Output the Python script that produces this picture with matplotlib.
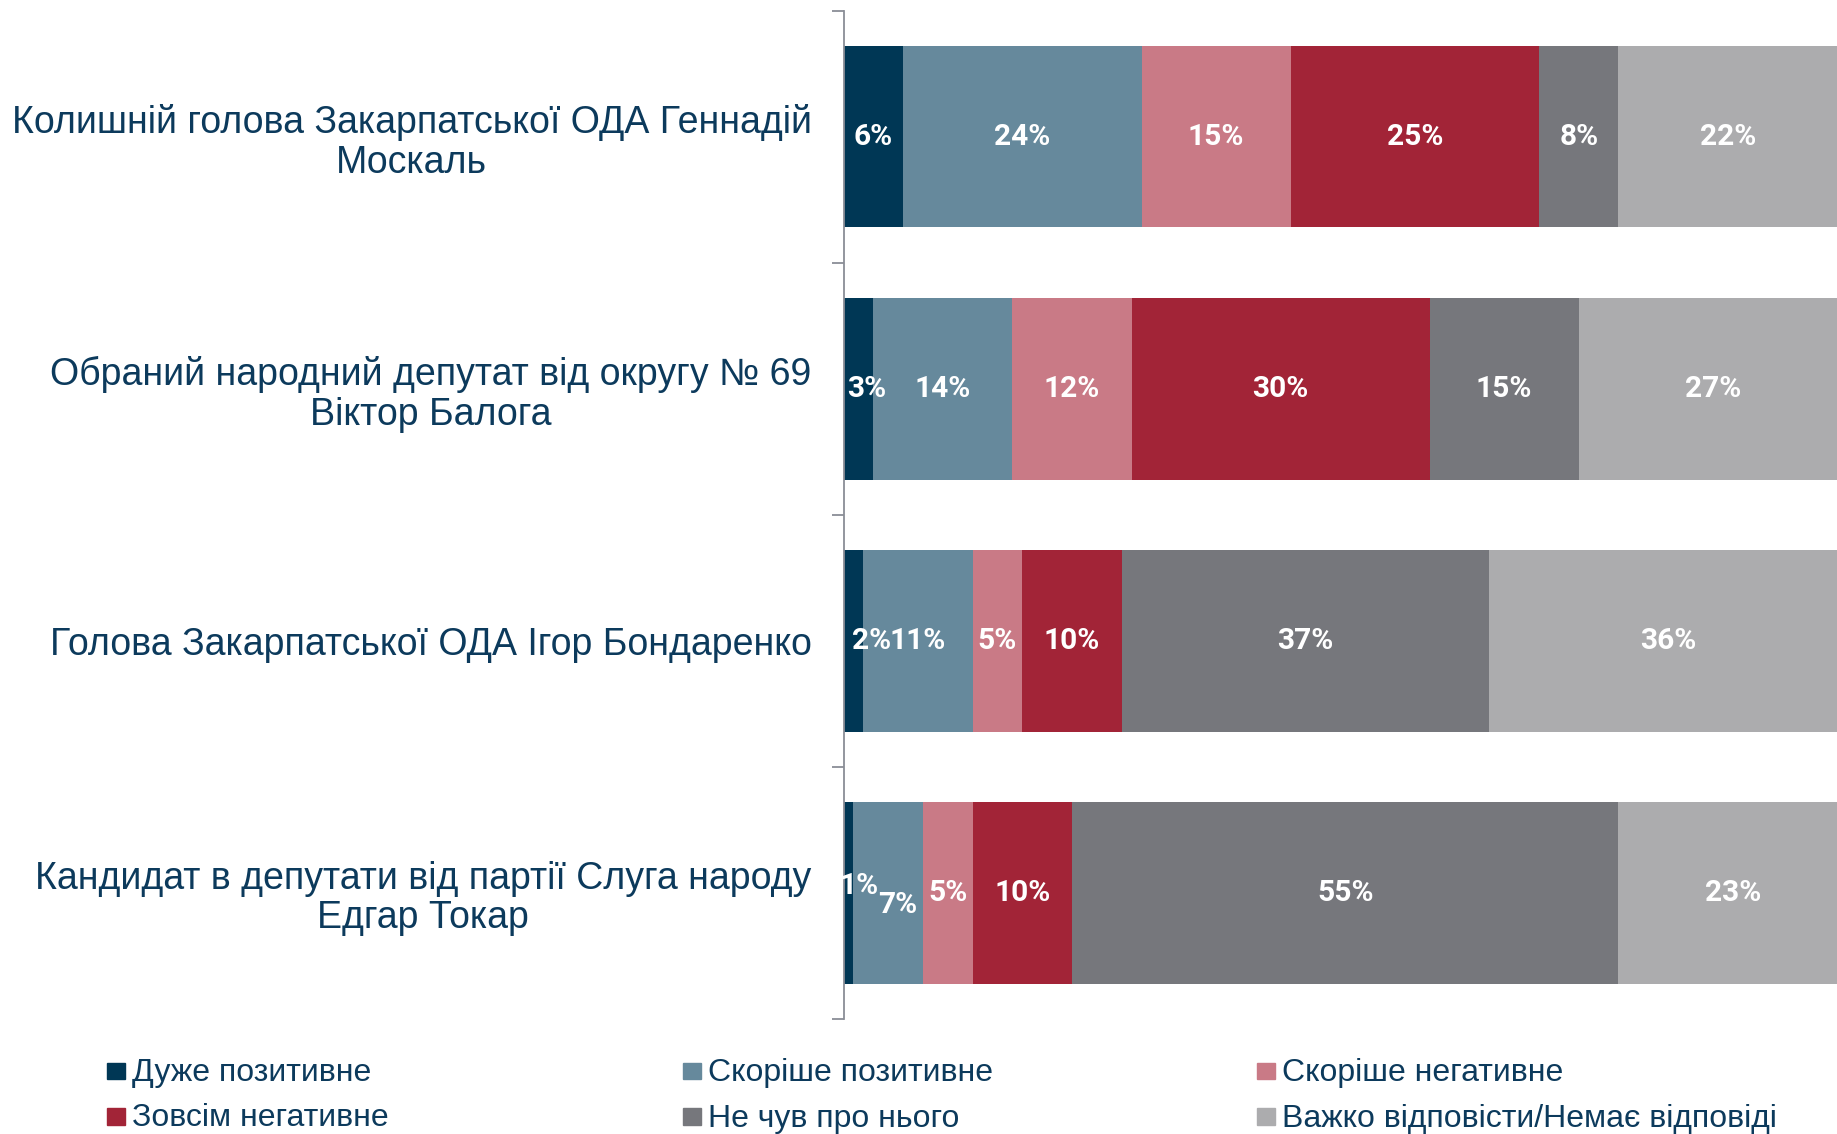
import matplotlib
matplotlib.use("Agg")
import matplotlib.pyplot as plt
from matplotlib.patches import Rectangle
import numpy as np

categories = [
    "Колишній голова Закарпатської ОДА Геннадій\nМоскаль",
    "Обраний народний депутат від округу № 69\nВіктор Балога",
    "Голова Закарпатської ОДА Ігор Бондаренко",
    "Кандидат в депутати від партії Слуга народу\nЕдгар Токар",
]
series = [
    "Дуже позитивне",
    "Скоріше позитивне",
    "Скоріше негативне",
    "Зовсім негативне",
    "Не чув про нього",
    "Важко відповісти/Немає відповіді",
]
very_positive = [6, 3, 2, 1]
rather_positive = [24, 14, 11, 7]
rather_negative = [15, 12, 5, 5]
very_negative = [25, 30, 10, 10]
never_heard = [8, 15, 37, 55]
hard_to_say = [22, 27, 36, 23]

values = [very_positive, rather_positive, rather_negative,
          very_negative, never_heard, hard_to_say]
colors = ["#003755", "#66899c", "#c97a86", "#a22437", "#76777c", "#acacae"]
text_color = "#0c3a5c"

# hand nudges (pixels) for labels on the narrow segments
nudges = {(1, 0): (8, 0), (2, 0): (18, 0), (3, 0): (11, 7), (3, 1): (9, -12)}

W, H = 1837, 1134
fig = plt.figure(figsize=(W / 100, H / 100), dpi=100)
ax = fig.add_axes([843.5 / W, 1 - 1019 / H, 1 - 843.5 / W, (1019 - 10.7) / H])

y = np.arange(len(categories))
left = np.zeros(len(categories))
for j, (name, vals, col) in enumerate(zip(series, values, colors)):
    vals = np.array(vals, dtype=float)
    bars = ax.barh(y, vals, left=left, height=0.72, color=col, label=name)
    for i, (b, v) in enumerate(zip(bars, vals)):
        dx, dy = nudges.get((i, j), (0, 0))
        ax.annotate(f"{int(v)}%", (b.get_x() + b.get_width() / 2, b.get_y() + b.get_height() / 2),
                    xytext=(dx * 0.72, dy * 0.72), textcoords="offset points",
                    ha="center", va="center", color="white", fontsize=21.5,
                    fontweight="bold", family="Roboto", annotation_clip=False)
    left += vals

ax.set_xlim(0, 100)
ax.set_ylim(len(categories) - 0.5, -0.5)
for s in ["top", "right", "bottom"]:
    ax.spines[s].set_visible(False)
ax.spines["left"].set_color("#8a8d96")
ax.spines["left"].set_linewidth(1.3)
ax.set_xticks([])
ax.set_yticks(np.arange(len(categories) + 1) - 0.5)
ax.set_yticklabels([])
ax.tick_params(axis="y", which="major", length=8.6, width=1.3, color="#8a8d96")
ax.set_yticks(y, minor=True)
ax.set_yticklabels(categories, minor=True, fontsize=27, color=text_color,
                   family="Liberation Sans", multialignment="center", linespacing=1.12)
ax.tick_params(axis="y", which="minor", length=0, pad=23)

# legend laid out as a 3x2 grid under the chart
col_x = [106.7, 683, 1257]
row_y = [1071, 1116.5]
for i, (name, col) in enumerate(zip(series, colors)):
    cx = col_x[i % 3]
    cy = row_y[i // 3]
    fig.add_artist(Rectangle((cx / W, 1 - (cy + 8.3) / H), 18 / W, 16.5 / H,
                             transform=fig.transFigure, color=col))
    fig.text((cx + 25) / W, 1 - (cy + 2) / H, name, ha="left", va="center",
             fontsize=23, color=text_color, family="Liberation Sans")

fig.savefig("out.png", dpi=100)
